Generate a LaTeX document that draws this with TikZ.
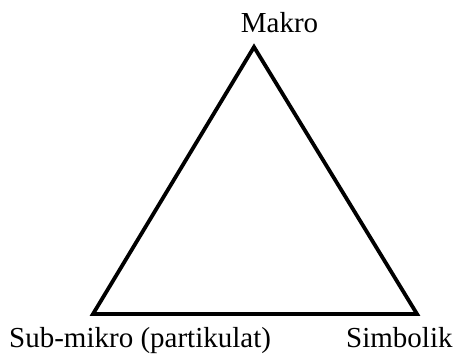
\documentclass[tikz,border=0pt]{standalone}
\usepackage{fontspec}
\setmainfont{Liberation Serif}
\begin{document}
\begin{tikzpicture}[x=1pt,y=1pt,
  lbl/.style={inner sep=0pt, font=\fontsize{29}{34}\selectfont},
  tri/.style={line width=3.8pt, line join=miter}]
\useasboundingbox (0,0) rectangle (454,355);
\coordinate (A) at (254,308);
\coordinate (B) at (93,41);
\coordinate (C) at (417,41);
\draw[tri] (A) -- (B) -- (C) -- cycle;
\node[lbl, anchor=base] (makro) at (279.5,322) {Makro};
\node[lbl, anchor=base west] (sub) at (9,7) {Sub-mikro (partikulat)};
\node[lbl, anchor=base west] (simb) at (346,7) {Simbolik};
\end{tikzpicture}
\end{document}
